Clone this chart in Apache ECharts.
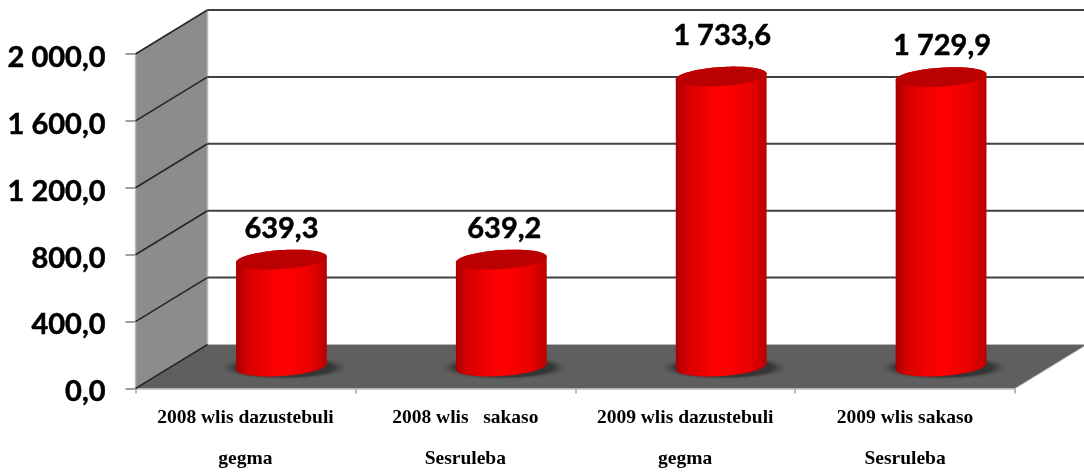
<!DOCTYPE html>
<html>
<head>
<meta charset="utf-8">
<style>html,body{margin:0;padding:0;background:#fff}#c{width:1084px;height:472px}</style>
<script src="https://cdn.jsdelivr.net/npm/echarts@6/dist/echarts.min.js"></script>
</head>
<body>
<div id="c"></div>
<script>
const categories = ['2008 wlis dazustebuli\ngegma', '2008 wlis   sakaso\nSesruleba', '2009 wlis dazustebuli\ngegma', '2009 wlis sakaso\nSesruleba'];
const values = [639.3, 639.2, 1733.6, 1729.9];
const valueLabels = ['639,3', '639,2', '1 733,6', '1 729,9'];
const yTicks = [0, 400, 800, 1200, 1600, 2000];
const yTickLabels = ['0,0', '400,0', '800,0', '1 200,0', '1 600,0', '2 000,0'];

// label placement relative to the top of each cylinder
const labelLift = [31, 31, 41, 32];
const labelShift = [0, 3, 1, 1];

const DEPTH_X = 72, DEPTH_Y = -44;
const RX = 45.5, RY = 9.5, TILT = -3.8 * Math.PI / 180;

function ellipsePoint(cx, cy, t) {
  const c = Math.cos(t), s = Math.sin(t);
  return [cx + RX * c * Math.cos(TILT) - RY * s * Math.sin(TILT),
          cy + RX * c * Math.sin(TILT) + RY * s * Math.cos(TILT)];
}

const chart = echarts.init(document.getElementById('c'));

function renderWalls(params, api) {
  const g = params.coordSys;
  const y0 = g.y + g.height, x0 = g.x, x1 = g.x + g.width;
  return {
    type: 'group',
    silent: true,
    children: [
      { type: 'polygon', shape: { points: [[x0, g.y], [x0 + DEPTH_X, g.y + DEPTH_Y], [x0 + DEPTH_X, y0 + DEPTH_Y], [x0, y0]] },
        style: { fill: '#8c8c8c', stroke: '#bdbdbd', lineWidth: 1.5 } },
      { type: 'polygon', shape: { points: [[x0, y0], [x0 + DEPTH_X, y0 + DEPTH_Y], [x1 + DEPTH_X, y0 + DEPTH_Y], [x1, y0]] },
        style: { fill: '#5f5f5f', stroke: '#b5b5b5', lineWidth: 1 } }
    ]
  };
}

function renderGrid(params, api) {
  const g = params.coordSys;
  const y = api.coord([0, api.value(1)])[1];
  const x0 = g.x, x1 = g.x + g.width;
  const children = [
    { type: 'line', shape: { x1: x0, y1: y, x2: x0 + DEPTH_X, y2: y + DEPTH_Y },
      style: { stroke: '#262626', lineWidth: 1.6 } }
  ];
  if (api.value(1) > 0) {
    children.push({ type: 'line', shape: { x1: x0 + DEPTH_X, y1: y + DEPTH_Y, x2: x1 + DEPTH_X, y2: y + DEPTH_Y },
      style: { stroke: '#404040', lineWidth: 2 } });
  }
  return { type: 'group', silent: true, children };
}

function renderCylinder(params, api) {
  const i = api.value(0);
  const top = api.coord([i, api.value(1)]);
  const base = api.coord([i, 0]);
  const cx = top[0] + DEPTH_X / 2;
  const ty = top[1] + DEPTH_Y / 2;
  const by = base[1] + DEPTH_Y / 2;
  const body = [];
  const cap = [];
  const n = 48;
  for (let k = 0; k <= n; k++) body.push(ellipsePoint(cx, by, Math.PI - Math.PI * k / n));
  body.push(ellipsePoint(cx, ty, 0));
  for (let k = 0; k <= n; k++) body.push(ellipsePoint(cx, ty, -Math.PI * k / n));
  for (let k = 0; k < n * 2; k++) cap.push(ellipsePoint(cx, ty, Math.PI * k / n));
  return {
    type: 'group',
    children: [
      { type: 'circle', x: cx + 3, y: by + 1, scaleX: 1, scaleY: 0.19,
        shape: { cx: 0, cy: 0, r: 66 },
        style: { fill: { type: 'radial', x: 0.5, y: 0.5, r: 0.5, colorStops: [
          { offset: 0, color: 'rgba(40,40,40,0.95)' },
          { offset: 0.74, color: 'rgba(48,48,48,0.85)' },
          { offset: 1, color: 'rgba(90,90,90,0)' } ] } } },
      { type: 'polygon', shape: { points: body },
        style: { fill: { type: 'linear', x: 0, y: 0, x2: 1, y2: 0, colorStops: [
          { offset: 0, color: '#a80000' },
          { offset: 0.14, color: '#d80000' },
          { offset: 0.42, color: '#fa0000' },
          { offset: 0.56, color: '#ff0000' },
          { offset: 0.84, color: '#e60000' },
          { offset: 1, color: '#b80000' } ] } } },
      { type: 'polygon', shape: { points: cap }, style: { fill: '#ba0000' } },
      { type: 'text', x: cx + labelShift[i], y: ty - labelLift[i],
        style: { text: valueLabels[i], fill: '#000', font: 'bold 29px Lato', align: 'center', verticalAlign: 'middle',
                 stroke: '#000', lineWidth: 0.5 } }
    ]
  };
}

chart.setOption({
  animation: false,
  backgroundColor: '#fff',
  grid: { left: 135.5, top: 54, width: 879.5, height: 334.5, outerBoundsMode: 'none', containLabel: false },
  xAxis: {
    type: 'category',
    data: categories,
    boundaryGap: true,
    axisLine: { show: true, lineStyle: { color: '#bcbcbc', width: 1.5 } },
    axisTick: { show: true, length: 5, alignWithLabel: false, lineStyle: { color: '#a8a8a8', width: 1.5 } },
    axisLabel: { interval: 0, margin: 9, hideOverlap: false, fontFamily: 'Liberation Serif', fontWeight: 'bold', fontSize: 19.5, lineHeight: 41, color: '#000' }
  },
  yAxis: {
    type: 'value',
    min: 0,
    max: 2000,
    interval: 400,
    splitLine: { show: false },
    axisLine: { show: false },
    axisTick: { show: true, length: 10, lineStyle: { color: '#808080', width: 1.5 } },
    axisLabel: {
      margin: 30,
      verticalAlign: 'top',
      lineHeight: 7,
      fontFamily: 'Lato',
      fontWeight: 'bold',
      fontSize: 29,
      color: '#000',
      textBorderColor: '#000',
      textBorderWidth: 0.5,
      formatter: v => yTickLabels[yTicks.indexOf(v)]
    }
  },
  series: [
    { type: 'custom', name: 'walls', silent: true, clip: false, z: 1, renderItem: renderWalls, data: [[0, 0]] },
    { type: 'custom', name: 'grid', silent: true, clip: false, z: 2, renderItem: renderGrid, data: yTicks.map(v => [0, v]) },
    { type: 'custom', name: 'values', clip: false, z: 3, renderItem: renderCylinder, data: values.map((v, i) => [i, v]) }
  ]
});
</script>
</body>
</html>
